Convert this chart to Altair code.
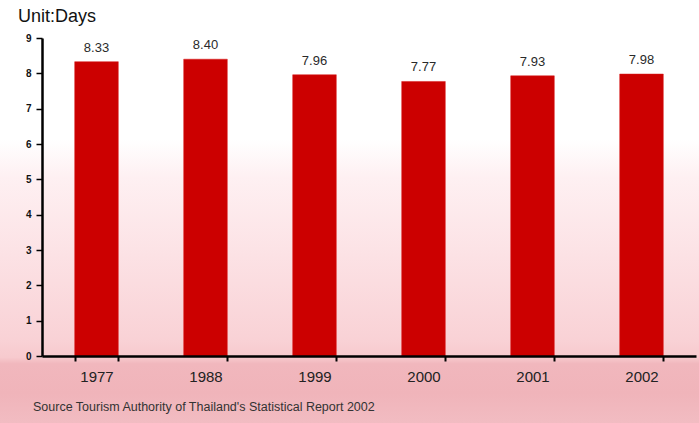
import altair as alt
import pandas as pd

# Average length of stay of international tourists (days)
years = ["1977", "1988", "1999", "2000", "2001", "2002"]
days = [8.33, 8.40, 7.96, 7.77, 7.93, 7.98]
labels = ["8.33", "8.40", "7.96", "7.77", "7.93", "7.98"]
y_ticks = [0, 1, 2, 3, 4, 5, 6, 7, 8, 9]

unit_text = "Unit:Days"
source_text = "Source Tourism Authority of Thailand's Statistical Report 2002"

W, H = 654, 318
PAD_L, PAD_T, PAD_R, PAD_B = 42, 38, 3, 67

df = pd.DataFrame({"year": years, "days": days, "label": labels})
one = pd.DataFrame({"k": [0]})

# soft white-to-pink backdrop behind the whole figure
backdrop = alt.Chart(one).mark_rect(
    color=alt.Gradient(
        gradient="linear",
        x1=0, y1=0, x2=0, y2=1,
        stops=[
            alt.GradientStop(color="#ffffff", offset=0.0),
            alt.GradientStop(color="#ffffff", offset=0.33),
            alt.GradientStop(color="#fef0f2", offset=0.42),
            alt.GradientStop(color="#fce2e5", offset=0.60),
            alt.GradientStop(color="#f9d2d6", offset=0.80),
            alt.GradientStop(color="#f7cace", offset=0.845),
            alt.GradientStop(color="#f1b7bd", offset=0.86),
            alt.GradientStop(color="#f0b4ba", offset=0.93),
            alt.GradientStop(color="#f2bcc2", offset=1.0),
        ],
    )
).encode(
    x=alt.value(-PAD_L), x2=alt.value(W + PAD_R),
    y=alt.value(-PAD_T), y2=alt.value(H + PAD_B),
)

x_enc = alt.X(
    "year:N", sort=years, title=None,
    scale=alt.Scale(paddingInner=0.6, paddingOuter=0.3),
    axis=alt.Axis(
        labelAngle=0, labelFont="Arial", labelFontSize=15, labelColor="#222222",
        labelPadding=8, tickBand="extent", tickSize=5, tickWidth=2,
        tickColor="#000000", domainColor="#000000", domainWidth=2.5, zindex=2,
    ),
)
y_enc = alt.Y(
    "days:Q", title=None,
    scale=alt.Scale(domain=[0, 9], nice=False),
    axis=alt.Axis(
        values=y_ticks, grid=False, labelFont="Arial", labelFontSize=10,
        labelFontWeight="bold", labelColor="#111111", labelPadding=5,
        labelOverlap=False, labelFlush=False,
        tickSize=6, tickWidth=1.5, tickColor="#000000",
        domainColor="#000000", domainWidth=2.5, zindex=2,
    ),
)

bars = alt.Chart(df).mark_bar(color="#cc0000", stroke="#d81a1a", strokeWidth=0.5).encode(
    x=x_enc, y=y_enc
)

values = alt.Chart(df).mark_text(
    font="Arial", fontSize=13, color="#2a2a2a", baseline="bottom", dy=-7
).encode(x=x_enc, y=y_enc, text="label:N")

unit = alt.Chart(one).mark_text(
    text=unit_text, font="Arial", fontSize=18, color="#111111", align="left", baseline="middle"
).encode(x=alt.value(-24), y=alt.value(-21))

source = alt.Chart(one).mark_text(
    text=source_text, font="Arial", fontSize=12.5, color="#333333",
    align="left", baseline="middle",
).encode(x=alt.value(-9), y=alt.value(H + 51))

chart = (
    alt.layer(backdrop, bars, values, unit, source)
    .properties(
        width=W, height=H,
        autosize=alt.AutoSizeParams(type="none"),
        padding={"left": PAD_L, "top": PAD_T, "right": PAD_R, "bottom": PAD_B},
    )
    .configure_view(strokeWidth=0)
    .configure(background="#ffffff")
)

chart.save("out.html", embed_options={"renderer": "svg", "actions": False})
